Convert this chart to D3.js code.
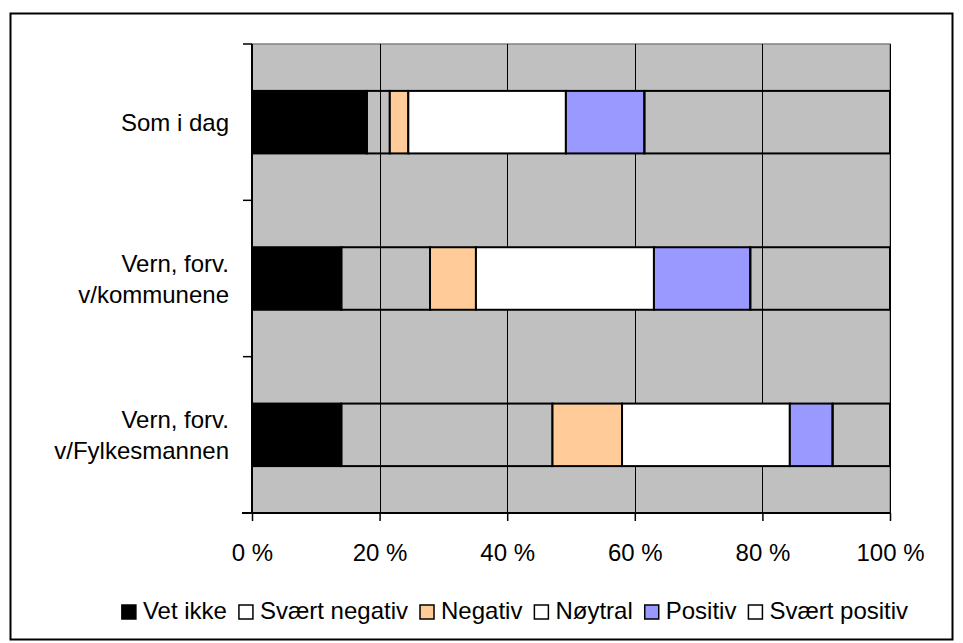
<!DOCTYPE html>
<html>
<head>
<meta charset="utf-8">
<script src="https://cdn.jsdelivr.net/npm/d3@7"></script>
<style>
  html, body { margin: 0; padding: 0; background: #fff; }
  svg { display: block; }
  text { font-family: "Liberation Sans", Arial, sans-serif; fill: #000; }
</style>
</head>
<body>
<svg id="chart" width="963" height="643"></svg>
<script>
// ---- data ----
const categories = ["Som i dag", "Vern, forv. v/kommunene", "Vern, forv. v/Fylkesmannen"];
const categoryLines = [["Som i dag"], ["Vern, forv.", "v/kommunene"], ["Vern, forv.", "v/Fylkesmannen"]];
const seriesNames = ["Vet ikke", "Svært negativ", "Negativ", "Nøytral", "Positiv", "Svært positiv"];
const vetIkke      = [18.0, 14.0, 14.0];
const svaertNeg    = [3.6, 13.9, 33.1];
const negativ      = [2.9, 7.2, 10.9];
const noytral      = [24.7, 27.9, 26.3];
const positiv      = [12.3, 15.1, 6.7];
const svaertPos    = [38.5, 21.9, 9.0];
const tickValues   = [0, 20, 40, 60, 80, 100];

const seriesValues = [vetIkke, svaertNeg, negativ, noytral, positiv, svaertPos];
const barFill    = ["#000000", "none", "#FFCC99", "#FFFFFF", "#9999FF", "none"];
const legendFill = ["#000000", "#FFFFFF", "#FFCC99", "#FFFFFF", "#9999FF", "#FFFFFF"];

// ---- layout ----
const svg = d3.select("#chart");
const plot = { left: 252, right: 890, top: 44, bottom: 513 };
const fontSize = 24;

// outer chart border
svg.append("rect")
  .attr("x", 10.5).attr("y", 13.5)
  .attr("width", 942).attr("height", 626)
  .attr("fill", "#fff").attr("stroke", "#000").attr("stroke-width", 2);

const x = d3.scaleLinear().domain([0, 100]).range([plot.left, plot.right]);
const y = d3.scaleBand().domain(categories).range([plot.top, plot.bottom]).paddingInner(0.6).paddingOuter(0.3);
const yOuter = d3.scaleBand().domain(categories).range([plot.top, plot.bottom]);

// plot area background
svg.append("rect")
  .attr("x", plot.left).attr("y", plot.top)
  .attr("width", plot.right - plot.left).attr("height", plot.bottom - plot.top)
  .attr("fill", "#C0C0C0").attr("stroke", "#808080").attr("stroke-width", 1.5);

// gridlines
svg.append("g").selectAll("line")
  .data(tickValues.slice(1))
  .join("line")
  .attr("x1", d => Math.round(x(d)) + 0.5).attr("x2", d => Math.round(x(d)) + 0.5)
  .attr("y1", plot.top).attr("y2", plot.bottom)
  .attr("stroke", "#000").attr("stroke-width", 1);

// stacked data
const rows = categories.map((c, i) => {
  let acc = 0;
  return seriesNames.map((s, j) => {
    const v = seriesValues[j][i];
    const seg = { cat: c, series: j, x0: acc, x1: acc + v };
    acc += v;
    return seg;
  });
}).flat();

svg.append("g").selectAll("rect")
  .data(rows)
  .join("rect")
  .attr("x", d => x(d.x0))
  .attr("y", d => y(d.cat))
  .attr("width", d => x(d.x1) - x(d.x0))
  .attr("height", y.bandwidth())
  .attr("fill", d => barFill[d.series])
  .attr("stroke", "#000")
  .attr("stroke-width", 2);

// x axis
const xAxis = d3.axisBottom(x)
  .tickValues(tickValues)
  .tickSize(8)
  .tickFormat(d => d + " %");
const gx = svg.append("g")
  .attr("transform", `translate(0,${plot.bottom})`)
  .call(xAxis);
gx.select(".domain").attr("stroke", "#000").attr("stroke-width", 2)
  .attr("d", `M${plot.left - 10},0H${plot.right}`);
gx.selectAll(".tick line").attr("stroke", "#000").attr("stroke-width", 1.5);
gx.selectAll(".tick text")
  .attr("font-family", "Liberation Sans, Arial, sans-serif")
  .attr("font-size", fontSize)
  .attr("y", 31).attr("dy", "0.71em")
  .attr("fill", "#000");

// y axis
const yTicks = categories.map(c => yOuter(c)).concat([plot.bottom]);
const gy = svg.append("g");
gy.append("line")
  .attr("x1", plot.left).attr("x2", plot.left)
  .attr("y1", plot.top).attr("y2", plot.bottom)
  .attr("stroke", "#000").attr("stroke-width", 2);
gy.selectAll("line.tick")
  .data(yTicks)
  .join("line")
  .attr("class", "tick")
  .attr("x1", plot.left - 9).attr("x2", plot.left)
  .attr("y1", d => d).attr("y2", d => d)
  .attr("stroke", "#000").attr("stroke-width", 1.5);

// category labels
const lineGap = 31;
categories.forEach((c, i) => {
  const lines = categoryLines[i];
  const cy = y(c) + y.bandwidth() / 2;
  const t = svg.append("text")
    .attr("text-anchor", "end")
    .attr("font-size", fontSize);
  lines.forEach((ln, k) => {
    t.append("tspan")
      .attr("x", 229)
      .attr("y", cy + (k - (lines.length - 1) / 2) * lineGap + 9)
      .text(ln);
  });
});

// legend
const legend = svg.append("g");
const sq = 14, gapText = 7, gapItem = 12;
let lx = 0;
seriesNames.forEach((s, j) => {
  const g = legend.append("g");
  g.append("rect")
    .attr("x", lx).attr("y", -sq)
    .attr("width", sq).attr("height", sq)
    .attr("fill", legendFill[j]).attr("stroke", "#000").attr("stroke-width", 1.5);
  const t = g.append("text")
    .attr("x", lx + sq + gapText).attr("y", 0)
    .attr("font-size", fontSize)
    .text(s);
  lx += sq + gapText + t.node().getComputedTextLength() + gapItem;
});
const totalW = lx - gapItem;
legend.attr("transform", `translate(${(122 + 908) / 2 - totalW / 2},619)`);
</script>
</body>
</html>
